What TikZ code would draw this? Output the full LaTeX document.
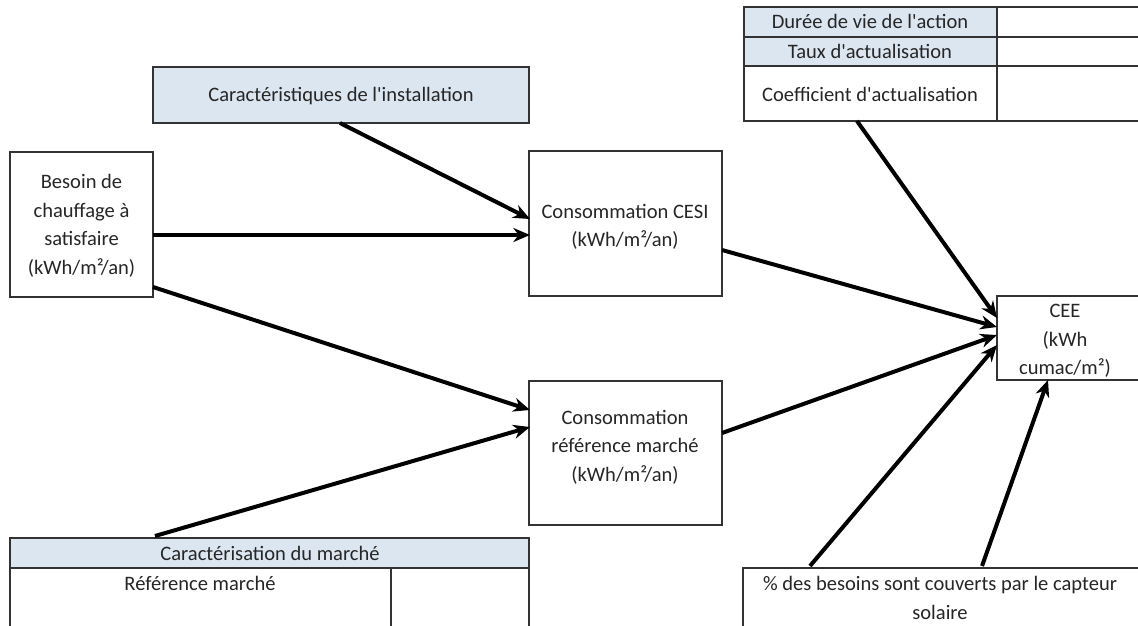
\documentclass[tikz,border=0pt]{standalone}
\usepackage{fontspec}
\setmainfont{Carlito}
\usetikzlibrary{arrows.meta,calc}
\definecolor{cellblue}{HTML}{DCE6F1}
\definecolor{txt}{HTML}{262626}
\newcommand{\ap}{\textquotesingle}
\begin{document}
\begin{tikzpicture}[x=0.75pt,y=-0.75pt,
  box/.style={draw=black!80, line width=0.9pt, inner sep=0pt, outer sep=0pt, anchor=north west},
  blue/.style={box, fill=cellblue},
  lbl/.style={text=txt, align=center, inner sep=0pt, font=\fontsize{15.4}{21.4}\selectfont},
  arr/.style={line width=3pt, black, -{Stealth[length=12.5pt,width=10.5pt,inset=4pt]}}]
\useasboundingbox (0,0) rectangle (1138,625);
\clip (0,0) rectangle (1138,625);
\fill[white] (0,0) rectangle (1138,625);
% top right table
\node[blue, minimum width=189.75pt, minimum height=22.5pt] (duree) at (744,7) {};
\node[box, minimum width=112.5pt, minimum height=22.5pt] (dureev) at (997,7) {};
\node[blue, minimum width=189.75pt, minimum height=21.75pt] (taux) at (744,37) {};
\node[box, minimum width=112.5pt, minimum height=21.75pt] (tauxv) at (997,37) {};
\node[box, minimum width=189.75pt, minimum height=41.25pt] (coef) at (744,66) {};
\node[box, minimum width=112.5pt, minimum height=41.25pt] (coefv) at (997,66) {};
\node[lbl] (tduree) at (870,21) {Durée de vie de l\ap action};
\node[lbl] (ttaux) at (870,51) {Taux d\ap actualisation};
\node[lbl] (tcoef) at (870,94) {Coefficient d\ap actualisation};
% caracteristiques
\node[blue, minimum width=282pt, minimum height=42pt] (carac) at (153,67) {};
\node[lbl] (tcarac) at (341,96) {Caractéristiques de l\ap installation};
% besoin
\node[box, minimum width=107.25pt, minimum height=108.75pt] (besoin) at (10,152) {};
\node[lbl] (tbesoin) at (81.5,226) {Besoin de\\chauffage à\\satisfaire\\(kWh/m²/an)};
% cesi
\node[box, minimum width=144.75pt, minimum height=108.75pt] (cesi) at (529,151) {};
\node[lbl] (tcesi) at (625,227) {Consommation CESI\\(kWh/m²/an)};
% reference
\node[box, minimum width=144.75pt, minimum height=108pt] (ref) at (529,381) {};
\node[lbl] (tref) at (625,447) {Consommation\\référence marché\\(kWh/m²/an)};
% CEE
\node[box, minimum width=107.25pt, minimum height=63pt] (cee) at (997,296) {};
\node[lbl] (tcee) at (1065,341) {CEE\\(kWh\\cumac/m²)};
% bottom left table
\node[blue, minimum width=389.25pt, minimum height=22.5pt] (marche) at (10,538) {};
\node[box, minimum width=285.75pt, minimum height=48pt] (refm) at (10,568) {};
\node[box, minimum width=103.5pt, minimum height=48pt] (refmv) at (391,568) {};
\node[lbl] (tmarche) at (270,553) {Caractérisation du marché};
\node[lbl] (trefm) at (200,583) {Référence marché};
% bottom right
\node[box, minimum width=301.5pt, minimum height=48pt] (pct) at (743,568) {};
\node[lbl] (tpct) at (940,598) {\% des besoins sont couverts par le capteur\\solaire};
% arrows
\draw[arr] ($(carac.south west)+(187,0)$) -- ($(cesi.north west)+(1,68)$);
\draw[arr] ($(besoin.north east)+(0,83)$) -- ($(cesi.north west)+(1,84)$);
\draw[arr] ($(besoin.north east)+(0,135)$) -- ($(ref.north west)+(1,29)$);
\draw[arr] ($(marche.north west)+(145,-2)$) -- ($(ref.north west)+(1,46)$);
\draw[arr] ($(coef.south west)+(113,0)$) -- ($(cee.north west)+(0,22)$);
\draw[arr] ($(cesi.north east)+(0,99)$) -- ($(cee.north west)+(0,31)$);
\draw[arr] ($(ref.north east)+(0,52)$) -- ($(cee.north west)+(0,39)$);
\draw[arr] ($(pct.north west)+(67,-2)$) -- ($(cee.north west)+(0,49)$);
\draw[arr] ($(pct.north west)+(239,-2)$) -- ($(cee.south west)+(51,0)$);
\end{tikzpicture}
\end{document}
